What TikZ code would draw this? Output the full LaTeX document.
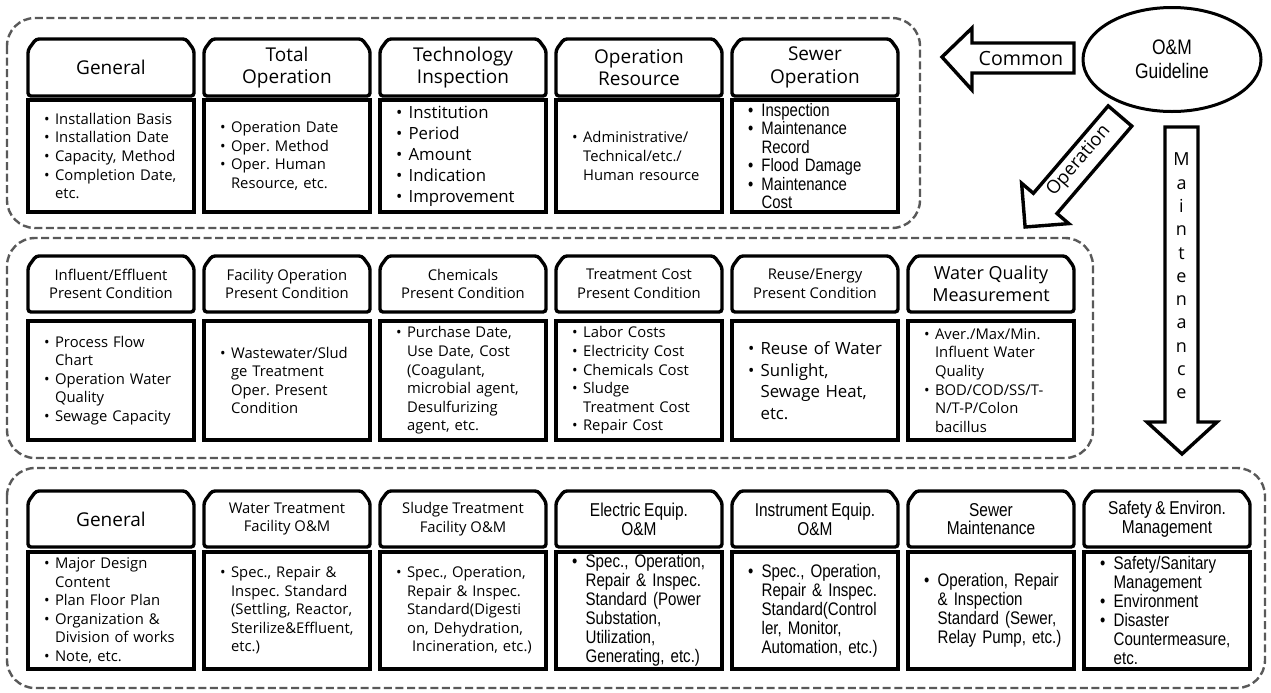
\documentclass[tikz,border=0pt]{standalone}
\usepackage{fontspec}
\setmainfont{Open Sans}
\newfontfamily\narrowsf{Liberation Sans}[FakeStretch=0.83, WordSpace=0.85]
\usetikzlibrary{shapes.geometric}
\frenchspacing

\tikzset{
	head/.style={rectangle, outer sep=0pt, minimum width=83pt, minimum height=28pt, inner sep=1pt, align=center, font=\fontsize{9.5}{11.3}\selectfont},
	headsm/.style={head, font=\fontsize{7.4}{9.3}\selectfont},
	headnr/.style={head, font=\narrowsf\fontsize{9.3}{9.4}\selectfont},
	headline/.style={draw, line width=1.7pt, rounded corners=1.5pt},
	body/.style={draw, line width=2pt, minimum width=83pt, text width=71pt, inner xsep=6pt, inner ysep=1pt, align=left, font=\fontsize{7.4}{9.3}\selectfont},
	bodybig/.style={body, font=\fontsize{8.4}{10.5}\selectfont},
	bodynr/.style={body, font=\narrowsf\fontsize{9.1}{9.5}\selectfont},
	group/.style={draw=black!65, line width=1.2pt, dash pattern=on 4pt off 1.8pt, rounded corners=14pt},
	blockarrow/.style={draw, line width=1.7pt},
}
\newcommand{\itm}{\hspace*{2pt}\makebox[0.75em][l]{\textbullet}}
\newcommand{\cnt}{\hspace*{2pt}\hspace*{0.75em}}

\begin{document}
\begin{tikzpicture}[x=0.5pt, y=-0.5pt]
				\useasboundingbox (0,0) rectangle (1271,692);
				\draw[group] (7,18) rectangle (920,228);
				\draw[group] (7,238) rectangle (1093,458);
				\draw[group] (7,468) rectangle (1265,688);
				\node[head, minimum height=28.5pt] (t1) at (111,67.5) {General};
				\node[head, minimum height=28.5pt] (t2) at (287,67.5) {Total\\Operation};
				\node[head, minimum height=28.5pt] (t3) at (463,67.5) {Technology\\Inspection};
				\node[head, minimum height=28.5pt] (t4) at (639,67.5) {Operation\\Resource};
				\node[head, minimum height=28.5pt] (t5) at (815,67.5) {Sewer\\Operation};
				\node[body, minimum height=56pt] (t1c) at (111,156) {\itm Installation Basis\\\itm Installation Date\\\itm Capacity, Method\\\itm Completion Date,\\\cnt etc.};
				\node[body, minimum height=56pt] (t2c) at (287,156) {\itm Operation Date\\\itm Oper. Method\\\itm Oper. Human\\\cnt Resource, etc.};
				\node[bodybig, minimum height=56pt] (t3c) at (463,156) {\itm Institution\\\itm Period\\\itm Amount\\\itm Indication\\\itm Improvement};
				\node[body, minimum height=56pt] (t4c) at (639,156) {\itm Administrative/\\\cnt Technical/etc./\\\cnt Human resource};
				\node[bodynr, minimum height=56pt, font=\narrowsf\fontsize{9}{9.2}\selectfont] (t5c) at (815,156) {\itm Inspection\\\itm Maintenance\\\cnt Record\\\itm Flood Damage\\\itm Maintenance\\\cnt Cost};
				\node[headsm] (m1) at (111,284) {Influent/Effluent\\Present Condition};
				\node[headsm] (m2) at (287,284) {Facility Operation\\Present Condition};
				\node[headsm] (m3) at (463,284) {Chemicals\\Present Condition};
				\node[headsm] (m4) at (639,284) {Treatment Cost\\Present Condition};
				\node[headsm] (m5) at (815,284) {Reuse/Energy\\Present Condition};
				\node[head, font=\fontsize{9}{11}\selectfont] (m6) at (991,284) {Water Quality\\Measurement};
				\node[body, minimum height=59.5pt] (m1c) at (111,380.5) {\itm Process Flow\\\cnt Chart\\\itm Operation Water\\\cnt Quality\\\itm Sewage Capacity};
				\node[body, minimum height=59.5pt] (m2c) at (287,380.5) {\itm Wastewater/Slud\\\cnt ge Treatment\\\cnt Oper. Present\\\cnt Condition};
				\node[body, minimum height=59.5pt] (m3c) at (463,380.5) {\itm Purchase Date,\\\cnt Use Date, Cost\\\cnt (Coagulant,\\\cnt microbial agent,\\\cnt Desulfurizing\\\cnt agent, etc.};
				\node[body, minimum height=59.5pt] (m4c) at (639,380.5) {\itm Labor Costs\\\itm Electricity Cost\\\itm Chemicals Cost\\\itm Sludge\\\cnt Treatment Cost\\\itm Repair Cost};
				\node[bodybig, minimum height=59.5pt, font=\fontsize{8.4}{10.8}\selectfont] (m5c) at (815,380.5) {\itm Reuse of Water\\\itm Sunlight,\\\cnt Sewage Heat,\\\cnt etc.};
				\node[body, minimum height=59.5pt] (m6c) at (991,380.5) {\itm Aver./Max/Min.\\\cnt Influent Water\\\cnt Quality\\\itm BOD/COD/SS/T-\\\cnt N/T-P/Colon\\\cnt bacillus};
				\node[head] (b1) at (111,519) {General};
				\node[headsm] (b2) at (287,519) {Water Treatment\\Facility O\&M};
				\node[headsm] (b3) at (463,519) {Sludge Treatment\\Facility O\&M};
				\node[headnr] (b4) at (639,519) {Electric Equip.\\O\&M};
				\node[headnr] (b5) at (815,519) {Instrument Equip.\\O\&M};
				\node[headnr] (b6) at (991,519) {Sewer\\Maintenance};
				\node[headnr] (b7) at (1167,519) {Safety \& Environ.\\Management};
				\node[body, minimum height=58.5pt] (b1c) at (111,610.5) {\itm Major Design\\\cnt Content\\\itm Plan Floor Plan\\\itm Organization \&\\\cnt Division of works\\\itm Note, etc.};
				\node[body, minimum height=58.5pt] (b2c) at (287,610.5) {\itm Spec., Repair \&\\\cnt Inspec. Standard\\\cnt (Settling, Reactor,\\\cnt Sterilize\&Effluent,\\\cnt etc.)};
				\node[body, minimum height=58.5pt] (b3c) at (463,610.5) {\itm Spec., Operation,\\\cnt Repair \& Inspec.\\\cnt Standard(Digesti\\\cnt on, Dehydration,\\\cnt\ Incineration, etc.)};
				\node[bodynr, minimum height=58.5pt] (b4c) at (639,610.5) {\itm Spec., Operation,\\\cnt Repair \& Inspec.\\\cnt Standard (Power\\\cnt Substation,\\\cnt Utilization,\\\cnt Generating, etc.)};
				\node[bodynr, minimum height=58.5pt] (b5c) at (815,610.5) {\itm Spec., Operation,\\\cnt Repair \& Inspec.\\\cnt Standard(Control\\\cnt ler, Monitor,\\\cnt Automation, etc.)};
				\node[bodynr, minimum height=58.5pt] (b6c) at (991,610.5) {\itm Operation, Repair\\\cnt \& Inspection\\\cnt Standard (Sewer,\\\cnt Relay Pump, etc.)};
				\node[bodynr, minimum height=58.5pt] (b7c) at (1167,610.5) {\itm Safety/Sanitary\\\cnt Management\\\itm Environment\\\itm Disaster\\\cnt Countermeasure,\\\cnt etc.};
				\foreach \n in {t1,t2,t3,t4,t5,m1,m2,m3,m4,m5,m6,b1,b2,b3,b4,b5,b6,b7}
					\draw[headline] (\n.south west) -- ([yshift=-5.5pt]\n.north west) -- ([xshift=4pt]\n.north west) -- ([xshift=-4pt]\n.north east) -- ([yshift=-5.5pt]\n.north east) -- (\n.south east) -- cycle;
				\node[ellipse, draw, line width=1.5pt, minimum width=89pt, minimum height=52pt, align=center, font=\narrowsf\fontsize{10.5}{12}\selectfont] (om) at (1172,59.5) {O\&M\\Guideline};
				\draw[blockarrow] (942,57) -- (972,28) -- (972,43) -- (1074,43) -- (1074,73) -- (972,73) -- (972,90) -- cycle;
				\node[font=\fontsize{9.8}{11}\selectfont] (common) at (1021,58) {Common};
				\draw[blockarrow] (1108.2,105.9) -- (1131.8,126.1) -- (1057,213.5) -- (1068.8,223.6) -- (1025.1,227) -- (1021.6,183.2) -- (1033.4,193.3) -- cycle;
				\node[rotate=49.4, font=\fontsize{9.2}{11}\selectfont] (oper) at (1079,161) {Operation};
				\draw[blockarrow] (1165,127) -- (1198,127) -- (1198,422) -- (1217,422) -- (1182,454) -- (1147,422) -- (1165,422) -- cycle;
				\node[align=center, font=\fontsize{9}{11.65}\selectfont] (maint) at (1181.5,276) {M\\a\\i\\n\\t\\e\\n\\a\\n\\c\\e};
			\end{tikzpicture}
\end{document}
